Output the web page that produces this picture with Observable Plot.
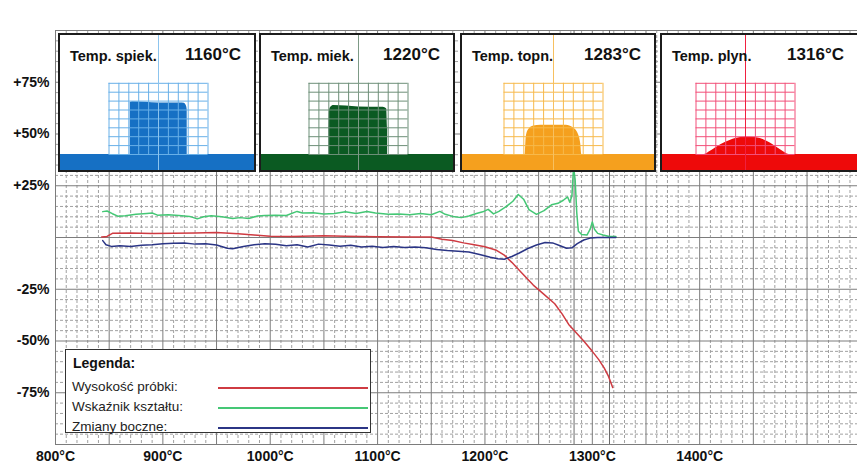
<!DOCTYPE html>
<html><head><meta charset="utf-8">
<script src="https://cdn.jsdelivr.net/npm/d3@7"></script>
<script src="https://cdn.jsdelivr.net/npm/@observablehq/plot@0.6"></script>
<style>
body{margin:0;background:#fff;}
#wrap{position:relative;width:857px;height:467px;overflow:hidden;font-family:"Liberation Sans",Arial,sans-serif;color:#111;}
#wrap svg{display:block;}
.panel{position:absolute;top:33px;height:139px;box-sizing:border-box;border:2px solid #1c1c1c;background:#fff;overflow:hidden;}
.panel svg{position:absolute;left:0;top:0;}
.plabel{position:absolute;left:10px;top:13px;font-size:14.5px;font-weight:bold;line-height:16px;white-space:nowrap;}
.pvalue{position:absolute;right:13px;top:10px;font-size:17px;font-weight:bold;line-height:20px;white-space:nowrap;}
#legend{position:absolute;left:65px;top:349px;width:306px;height:84px;box-sizing:border-box;border:1px solid #333;background:#fff;}
#legend .title{position:absolute;left:7px;top:4px;font-size:14px;font-weight:bold;line-height:18px;}
#legend .row{position:absolute;left:6px;font-size:13.5px;line-height:16px;color:#222;}
#legend .sw{position:absolute;left:152px;width:150px;height:1.6px;}
</style></head>
<body><div id="wrap"></div>
<script>
// ---------- data ----------
const seriesNames = ["Wysokość próbki:", "Wskaźnik kształtu:", "Zmiany boczne:"];
const seriesColors = ["#cf3b42", "#45c775", "#2b3585"];

const heightT = [843,848,853,870,890,910,930,950,970,985,1000,1020,1050,1070,1100,1130,1150,1160,1170,1180,1190,1200,1210,1218,1225,1235,1245,1255,1265,1272,1278,1285,1292,1300,1306,1311,1315,1319];
const heightV = [0.3,0.5,2.0,2.2,1.9,2.0,2.2,2.4,1.8,1.2,0.6,0.5,0.9,0.6,0.4,0.3,0.2,-0.8,-1.5,-2.6,-3.5,-4.5,-6,-8.5,-12,-17.5,-23,-27.5,-32,-37,-42,-46,-50,-55,-59,-63,-67,-72.5];

const shapeT = [844,848,853,858,865,875,885,890,895,905,915,925,932,938,945,955,965,972,980,988,995,1005,1015,1025,1030,1040,1050,1060,1070,1080,1090,1098,1110,1120,1130,1140,1150,1158,1163,1170,1178,1185,1192,1198,1203,1208,1213,1220,1226,1231,1236,1241,1248,1255,1262,1268,1273,1277,1279,1281,1282.5,1284,1285.5,1287,1290,1295,1298,1300,1302,1305,1310,1316,1322];
const shapeV = [12.5,12.8,11.5,10.3,10.5,11.2,11.6,11.8,10.8,11.0,10.6,10.2,9.0,10.0,10.5,10.0,9.2,9.6,9.2,10.4,10.6,10.8,10.6,12.6,11.8,12.0,11.4,11.6,12.4,11.6,12.6,11.8,11.2,11.4,11.0,11.6,11.0,12.6,11.2,10.2,9.6,10.4,11.6,12.4,13.6,11.4,12.6,15.0,17.5,20.8,18.5,13.5,11.2,13.0,15.8,16.5,18.0,19.6,17.0,20.0,34,28,12,3,1.5,1.2,4,7.5,4,2,1.2,0.5,0.5];

const lateralT = [844,847,852,860,870,880,890,900,910,920,930,940,950,960,965,975,985,995,1005,1015,1025,1035,1045,1055,1065,1075,1085,1095,1105,1115,1125,1135,1145,1155,1165,1175,1185,1195,1205,1212,1218,1225,1232,1240,1248,1256,1263,1270,1276,1281,1286,1292,1298,1305,1322];
const lateralV = [-1.5,-3.5,-4.3,-4.0,-4.3,-3.8,-3.5,-3.0,-2.8,-2.6,-3.2,-3.0,-3.6,-5.2,-5.4,-4.3,-3.5,-3.0,-3.3,-4.0,-3.5,-4.6,-3.2,-3.6,-4.2,-3.8,-4.6,-4.2,-4.8,-4.3,-4.8,-4.6,-5.0,-5.8,-6.3,-6.6,-7.0,-8.2,-9.5,-10.3,-10.5,-9.2,-7.5,-5.3,-3.6,-2.4,-2.6,-4.0,-5.2,-5.0,-3.0,-1.2,-0.3,0,0];

const xTickValues = [800,900,1000,1100,1200,1300,1400];
const yTickValues = [75,50,25,-25,-50,-75];
const markerTemps = [1283,1316];

// characteristic-temperature panels
const panelLabels = ["Temp. spiek.","Temp. miek.","Temp. topn.","Temp. plyn."];
const panelTemps = [1160,1220,1283,1316];
// silhouette profiles (grid units: x across 10 columns, h in rows above base)
const profile1X = [-2.86,-2.86,-2.6,0,2.2,2.6,2.82,2.9,2.9];
const profile1H = [0,5.85,5.92,5.8,5.8,5.75,5.45,5.0,0];
const profile2X = [-2.96,-3.0,-2.95,-2.8,-2.5,0,2.5,2.85,2.95,2.93];
const profile2H = [0,3.0,4.8,5.3,5.5,5.35,5.3,5.1,3.0,0];
const profile3X = [-2.86,-2.75,-2.5,-2.0,-1.3,0,1.3,2.0,2.5,2.75,2.86];
const profile3H = [0,2.0,2.8,3.2,3.3,3.3,3.3,3.0,2.3,1.2,0];
const profile4X = [-4.2,-3.5,-2.5,-1.5,-0.5,0.5,1.5,2.5,3.3,4.0,4.4];
const profile4H = [0,0.4,1.1,1.6,1.9,1.95,1.8,1.3,0.7,0.2,0];

// ---------- styles / layout ----------
const panelFill = ["#1670c4","#0b5a22","#f5a01e","#ee0a0a"];
const panelGrid = ["#68b0e8","#6d8f78","#f7b94a","#f2507a"];
const panelCenter = ["#8cc4ee","#7d9a86","#f7c060","#f02040"];
const panelLeft = [58,259,460,660];
const panelWidth = [198,196,196,199];
const panelGridCenter = [100,99,93,85];
const CELL_W = 9.9, CELL_H = 8.9, GRID_COLS = 10, GRID_ROWS = 8, BASE_FROM_TOP = 119;

const wrap = document.getElementById("wrap");
const fontFam = '"Liberation Sans", Arial, sans-serif';

// ---------- main chart ----------
const seriesT = [heightT, shapeT, lateralT];
const seriesV = [heightV, shapeV, lateralV];
const rows = [];
seriesNames.forEach((name, s) => seriesT[s].forEach((t, i) => rows.push({series: name, T: t, V: seriesV[s][i]})));

const majorX = d3.range(800, 1550, 50);
const minorX = d3.range(800, 1550, 10).filter(t => t % 50 !== 0);
const majorY = d3.range(-100, 101, 25);
const minorY = d3.range(-100, 101, 5).filter(v => v % 25 !== 0);

const chart = Plot.plot({
  width: 857, height: 467,
  marginLeft: 55, marginRight: 0, marginTop: 30, marginBottom: 23,
  x: {domain: [800, 1547], axis: null, label: null},
  y: {domain: [-100, 100], axis: null, label: null},
  color: {domain: seriesNames, range: seriesColors},
  style: {fontFamily: fontFam, background: "#fff", color: "#111"},
  marks: [
    Plot.ruleX(minorX, {stroke: "#a0a0a0", strokeDasharray: "3,2"}),
    Plot.ruleY(minorY, {stroke: "#a0a0a0", strokeDasharray: "3,2"}),
    Plot.ruleX(majorX, {stroke: "#7c7c7c"}),
    Plot.ruleY(majorY, {stroke: "#7c7c7c"}),
    Plot.ruleX(markerTemps, {stroke: "#6a6a6a"}),
    Plot.line(rows, {x: "T", y: "V", z: "series", stroke: "series", strokeWidth: 1.5, curve: "linear"}),
    Plot.axisX(xTickValues, {tickSize: 0, tickPadding: 7, label: null, tickFormat: d => d + "°C", fontSize: 14, fontWeight: "bold"}),
    Plot.axisY(yTickValues, {tickSize: 0, tickPadding: 6, label: null, tickFormat: d => (d > 0 ? "+" : "") + d + "%", fontSize: 14, fontWeight: "bold"})
  ]
});
wrap.appendChild(chart);

// ---------- panels ----------
const profilesX = [profile1X, profile2X, profile3X, profile4X];
const profilesH = [profile1H, profile2H, profile3H, profile4H];
panelLabels.forEach((label, i) => {
  const div = document.createElement("div");
  div.className = "panel";
  div.style.left = panelLeft[i] + "px";
  div.style.width = panelWidth[i] + "px";
  const W = panelWidth[i] - 4, H = 135;
  const gc = panelGridCenter[i] - 2;
  const xmin = -gc / CELL_W, xmax = (W - gc) / CELL_W;
  const ymin = -(H - BASE_FROM_TOP) / CELL_H, ymax = BASE_FROM_TOP / CELL_H;
  const prof = [{x: xmin, h: 0}]
    .concat(profilesX[i].map((x, k) => ({x, h: profilesH[i][k]})))
    .concat([{x: xmax, h: 0}]);
  const mini = Plot.plot({
    width: W, height: H, margin: 0,
    x: {domain: [xmin, xmax], axis: null},
    y: {domain: [ymin, ymax], axis: null},
    style: {background: "transparent"},
    marks: [
      Plot.areaY(prof, {x: "x", y1: ymin, y2: "h", fill: panelFill[i], curve: "monotone-x"}),
      Plot.ruleX(d3.range(-GRID_COLS / 2, GRID_COLS / 2 + 1), {y1: 0, y2: GRID_ROWS, stroke: panelGrid[i], strokeWidth: 1}),
      Plot.ruleY(d3.range(0, GRID_ROWS + 1), {x1: -GRID_COLS / 2, x2: GRID_COLS / 2, stroke: panelGrid[i], strokeWidth: 1}),
      Plot.ruleX([0], {stroke: panelCenter[i], strokeWidth: 1})
    ]
  });
  div.appendChild(mini);
  const l = document.createElement("span"); l.className = "plabel"; l.textContent = label; div.appendChild(l);
  const v = document.createElement("span"); v.className = "pvalue"; v.textContent = panelTemps[i] + "°C"; div.appendChild(v);
  wrap.appendChild(div);
});

// ---------- legend ----------
const leg = document.createElement("div");
leg.id = "legend";
leg.innerHTML = '<div class="title">Legenda:</div>';
seriesNames.forEach((name, i) => {
  const r = document.createElement("div");
  r.className = "row"; r.style.top = (29 + i * 20) + "px"; r.textContent = name;
  leg.appendChild(r);
  const sw = document.createElement("div");
  sw.className = "sw"; sw.style.top = (37 + i * 20) + "px"; sw.style.backgroundColor = seriesColors[i];
  leg.appendChild(sw);
});
wrap.appendChild(leg);
</script>
</body></html>
